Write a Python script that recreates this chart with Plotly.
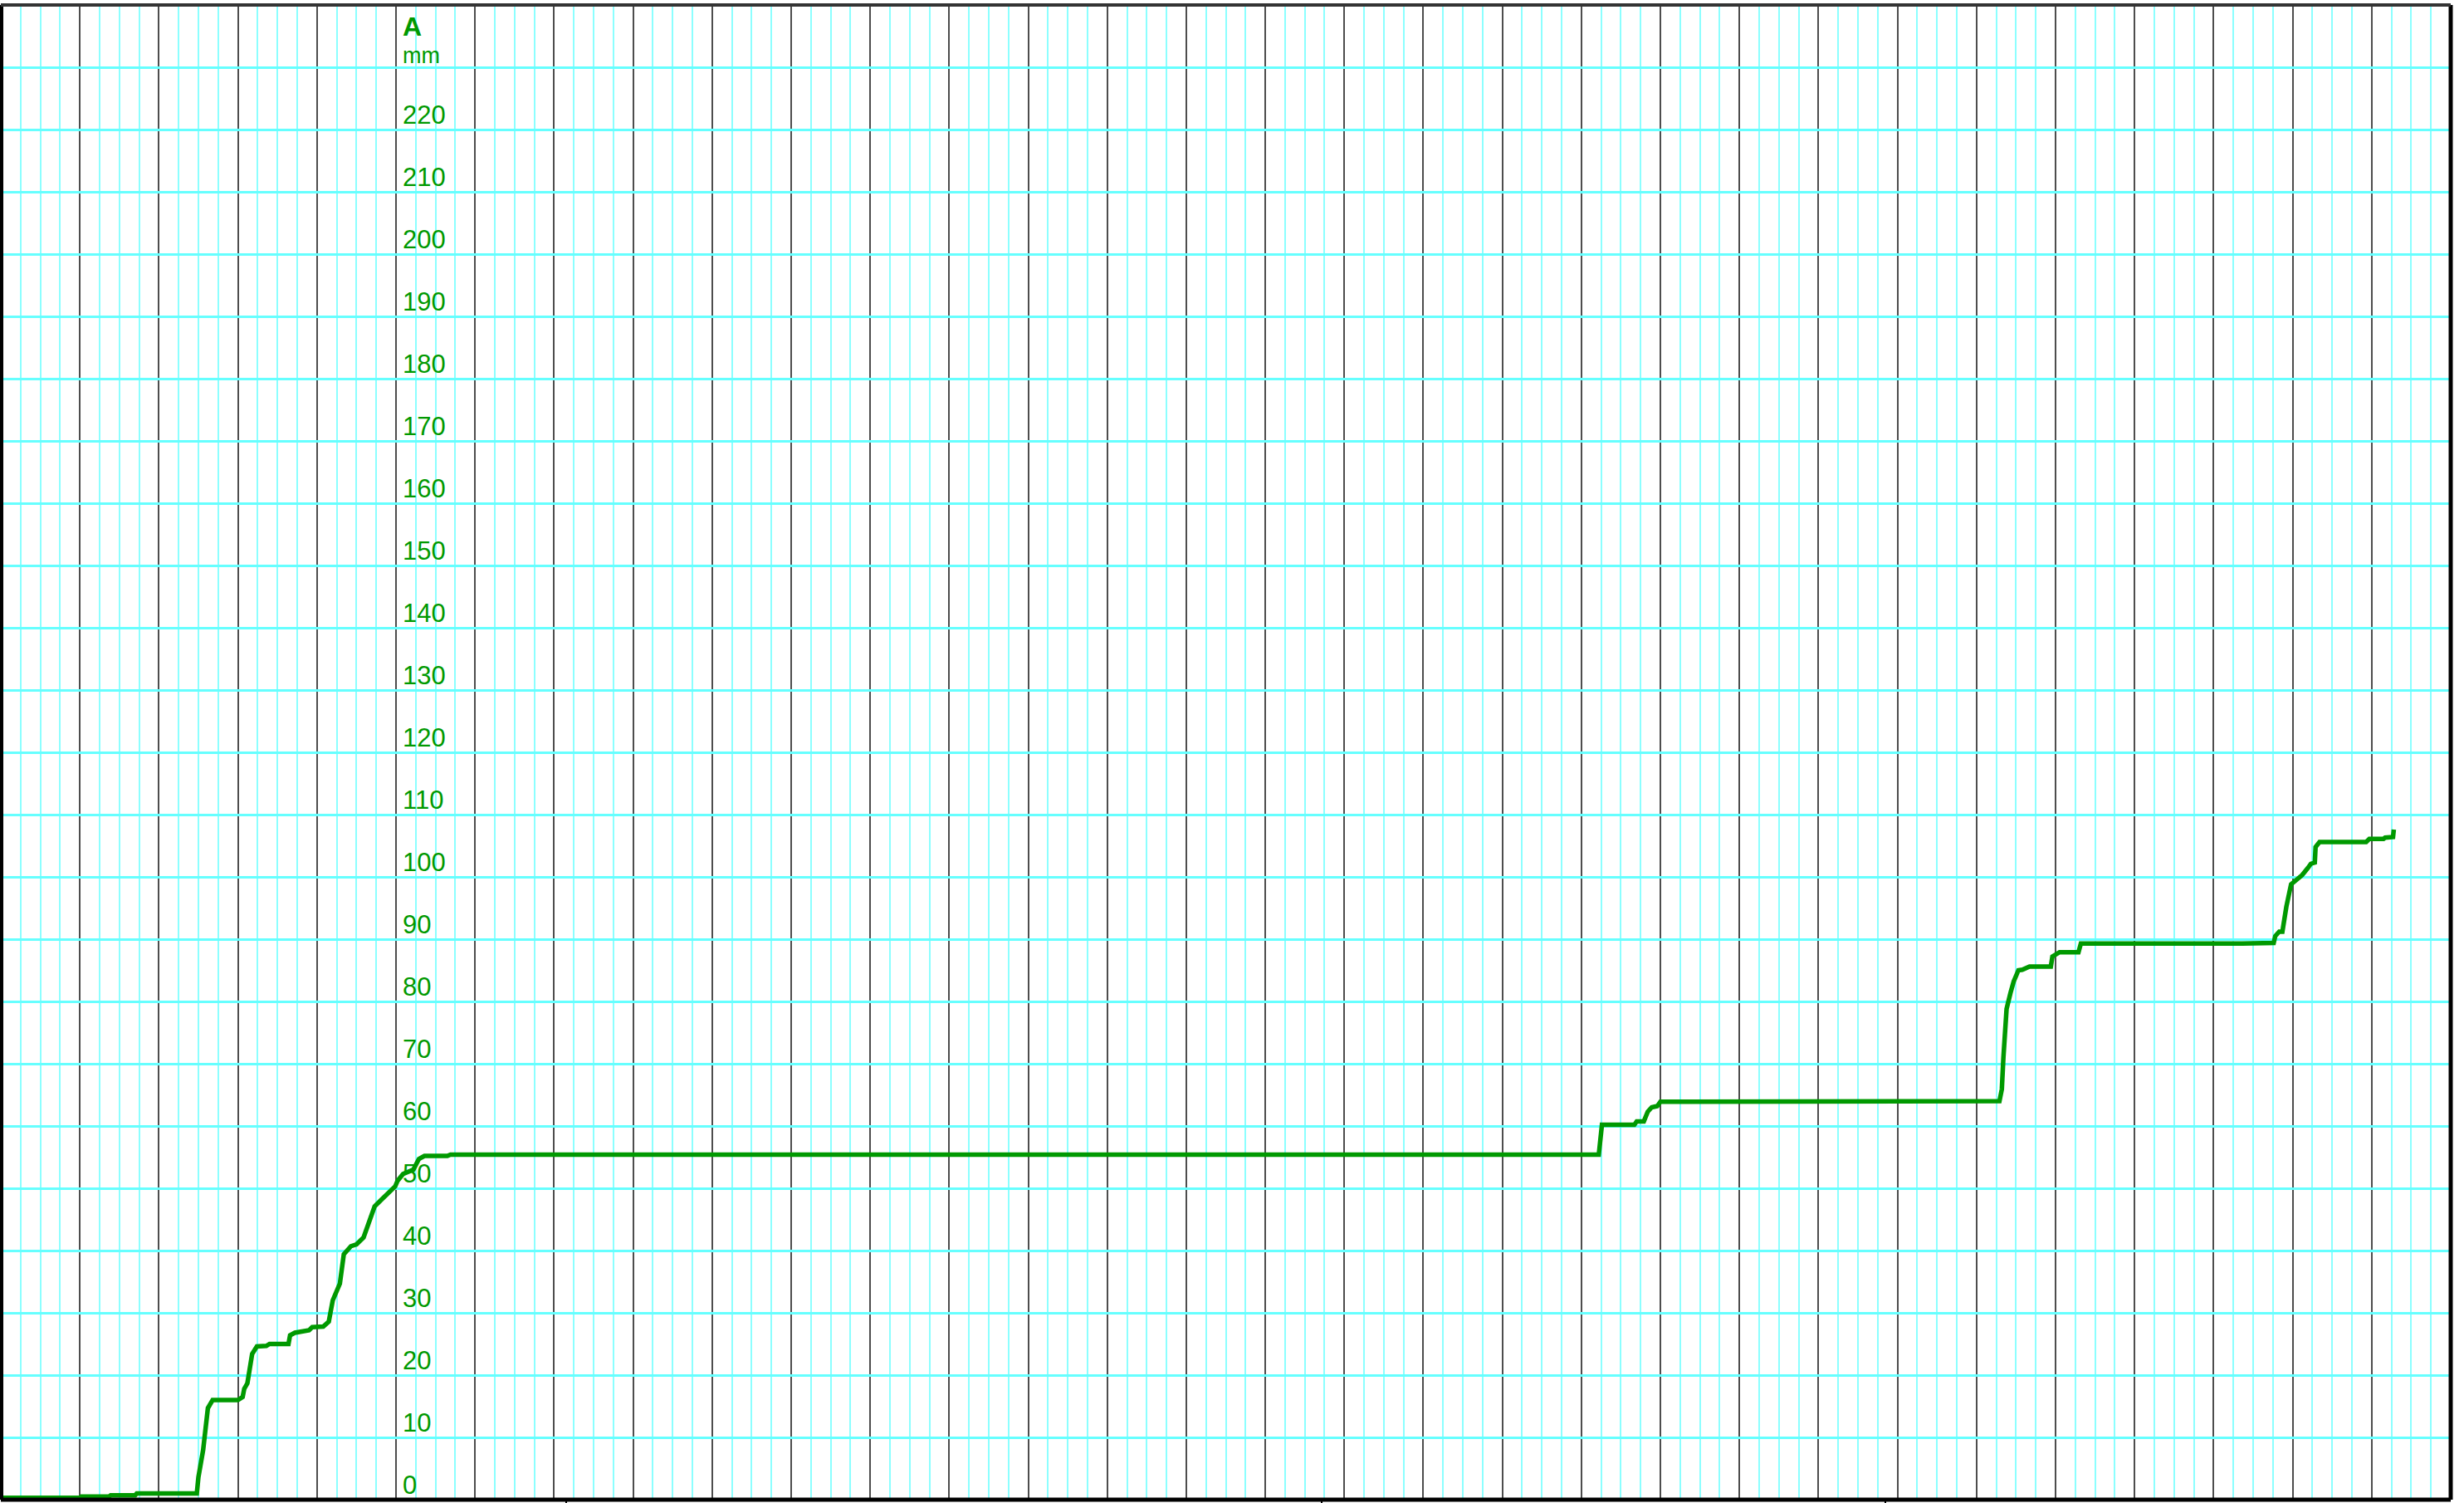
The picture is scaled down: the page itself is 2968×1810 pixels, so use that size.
import plotly.graph_objects as go

# ---- data (x in major chart divisions, y in mm) ----
x_vals = [0, 1.0, 1.02, 1.37, 1.39, 1.70, 1.72, 2.48, 2.50, 2.56, 2.62, 2.68, 3.00,
          3.06, 3.08, 3.12, 3.18, 3.24, 3.36, 3.40, 3.64, 3.66, 3.72, 3.90, 3.94,
          4.08, 4.15, 4.20, 4.29, 4.34, 4.43, 4.50, 4.59, 4.66, 4.73, 4.81, 4.90,
          4.99, 5.02, 5.09, 5.22, 5.29, 5.36, 5.65, 5.69, 20.22, 20.26, 20.67,
          20.70, 20.79, 20.84, 20.89, 20.96, 21.00, 25.29, 25.32, 25.34, 25.36,
          25.38, 25.43, 25.47, 25.53, 25.58, 25.67, 25.94, 25.96, 26.05, 26.29,
          26.32, 28.36, 28.76, 28.78, 28.83, 28.87, 28.90, 28.92, 28.98, 29.03,
          29.12, 29.19, 29.23, 29.28, 29.29, 29.34, 29.93, 29.97, 30.15, 30.17,
          30.27, 30.28]
y_vals = [0.3, 0.3, 0.5, 0.5, 0.7, 0.7, 1.0, 1.0, 3.6, 8.0, 14.7, 16.0, 16.0,
          16.5, 17.8, 18.7, 23.4, 24.6, 24.7, 25.0, 25.0, 26.4, 26.8, 27.2, 27.7,
          27.8, 28.6, 32.0, 34.7, 39.4, 40.7, 41.0, 42.1, 44.9, 47.1, 48.1, 49.3,
          50.3, 51.2, 52.3, 53.0, 54.7, 55.2, 55.2, 55.4, 55.4, 60.2, 60.2,
          60.75, 60.75, 62.3, 63.0, 63.2, 63.9, 64.0, 65.9, 71.0, 74.3,
          78.8, 81.4, 83.2, 85.0, 85.1, 85.6, 85.6, 87.2, 87.9, 87.9,
          89.3, 89.3, 89.4, 90.5, 91.2, 91.2, 93.9, 95.2, 98.8, 99.4,
          100.3, 101.4, 102.1, 102.3, 104.8, 105.6, 105.6, 106.1, 106.1, 106.3,
          106.4, 107.6]

y_tick_vals = list(range(0, 230, 10))
y_tick_text = [str(v) for v in y_tick_vals]
bottom_ticks = [7.15, 16.71, 23.85]
axis_title = "A"
axis_unit = "mm"

X_RANGE = [0, 31]
Y_RANGE = [0, 240]
LABEL_X = 5

GREEN = "#009900"
CYAN_H = "#66FFFF"
CYAN_V = "#8CFFFF"
MAJOR = "#4d4d4d"
FONT = "Liberation Sans, Arial, sans-serif"

fig = go.Figure()

fig.add_trace(go.Scatter(
    x=x_vals, y=y_vals, mode="lines",
    line=dict(color=GREEN, width=5.5),
    showlegend=False, hoverinfo="skip",
))
# invisible helper trace so the overlay x axis (bottom ticks) is drawn
fig.add_trace(go.Scatter(
    x=[X_RANGE[0]], y=[Y_RANGE[0]], xaxis="x2", mode="markers",
    marker=dict(opacity=0), showlegend=False, hoverinfo="skip",
))

annotations = []
for v, t in zip(y_tick_vals, y_tick_text):
    annotations.append(dict(
        x=LABEL_X, y=v, xref="x", yref="y", text=t, showarrow=False,
        xanchor="left", yanchor="middle", xshift=6, yshift=18,
        font=dict(family=FONT, size=31, color=GREEN)))
annotations += [
    dict(x=LABEL_X, y=236.6, xref="x", yref="y", text="<b>" + axis_title + "</b>",
         showarrow=False, xanchor="left", yanchor="middle", xshift=6,
         font=dict(family=FONT, size=32, color=GREEN)),
    dict(x=LABEL_X, y=231.9, xref="x", yref="y", text=axis_unit,
         showarrow=False, xanchor="left", yanchor="middle", xshift=6,
         font=dict(family=FONT, size=27, color=GREEN)),
]

fig.update_layout(
    width=2968, height=1810,
    margin=dict(l=1, r=16, t=6, b=4, autoexpand=False),
    paper_bgcolor="white", plot_bgcolor="white",
    xaxis=dict(
        range=X_RANGE, tick0=0, dtick=1,
        showgrid=True, gridcolor=MAJOR, gridwidth=2,
        minor=dict(dtick=0.25, tick0=0, showgrid=True, gridcolor=CYAN_V, gridwidth=2),
        ticks="", showticklabels=False, zeroline=False, showline=False,
    ),
    xaxis2=dict(
        overlaying="x", anchor="y", side="bottom", range=X_RANGE,
        tickvals=bottom_ticks, ticks="outside", ticklen=14,
        tickwidth=2, tickcolor="black", showticklabels=False, showgrid=False,
        zeroline=False, showline=False,
    ),
    yaxis=dict(
        range=Y_RANGE, tick0=0, dtick=10, showgrid=True, gridcolor=CYAN_H,
        gridwidth=3, showticklabels=False, ticks="", zeroline=False, showline=False,
    ),
    annotations=annotations,
    shapes=[
        dict(type="line", xref="paper", yref="paper", x0=0, x1=0, y0=0, y1=1,
             line=dict(color="black", width=6), layer="above"),
        dict(type="line", xref="paper", yref="paper", x0=1, x1=1, y0=0, y1=1,
             line=dict(color="black", width=5), layer="above"),
        dict(type="line", xref="paper", yref="paper", x0=0, x1=1, y0=0, y1=0,
             line=dict(color="black", width=5), layer="above"),
        dict(type="line", xref="paper", yref="paper", x0=0, x1=1, y0=1, y1=1,
             line=dict(color="#333333", width=4), layer="above"),
    ],
)

fig.write_html(
    "out.html",
    config={"displayModeBar": False},
    post_script="document.body.style.margin='0';document.body.style.padding='0';"
                "document.body.style.overflow='hidden';",
)
